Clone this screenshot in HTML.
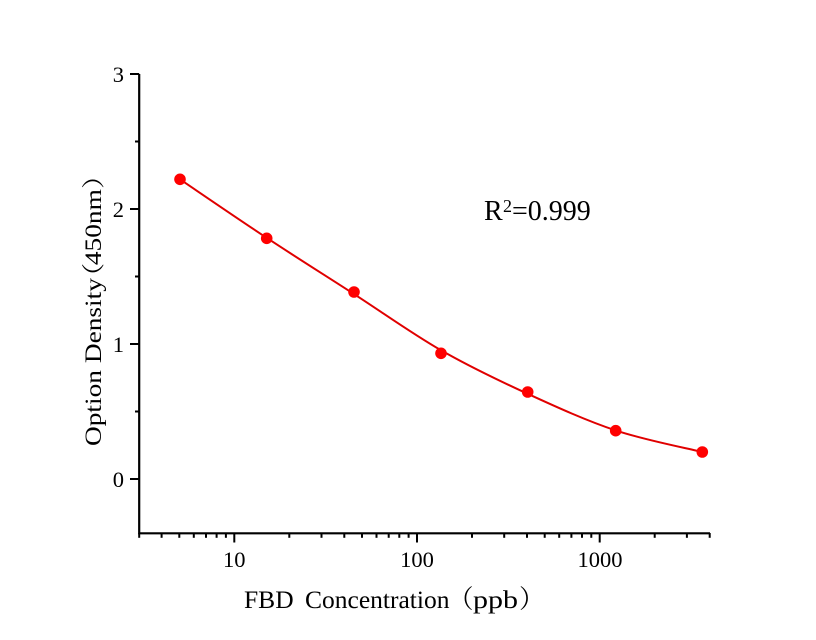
<!DOCTYPE html>
<html>
<head>
<meta charset="utf-8">
<style>
  html, body { margin: 0; padding: 0; background: #fff; }
  svg { display: block; }
  text { font-family: "Liberation Serif", "Noto Serif CJK SC", serif; fill: #000; }
  .cjk { font-family: "Noto Serif CJK SC", "Noto Sans CJK SC", serif; }
</style>
</head>
<body>
<svg width="816" height="640" viewBox="0 0 816 640" xmlns="http://www.w3.org/2000/svg">
  <rect x="0" y="0" width="816" height="640" fill="#fff"/>

  <!-- axes -->
  <path d="M139.2,74 V533.3 H710" stroke="#000" stroke-width="2.2" fill="none"/>

  <!-- y ticks -->
  <g stroke="#000" stroke-width="2">
    <line x1="130" y1="74" x2="139.2" y2="74"/>
    <line x1="130" y1="209" x2="139.2" y2="209"/>
    <line x1="130" y1="344" x2="139.2" y2="344"/>
    <line x1="130" y1="479" x2="139.2" y2="479"/>
    <line x1="135" y1="141.5" x2="139.2" y2="141.5"/>
    <line x1="135" y1="276.5" x2="139.2" y2="276.5"/>
    <line x1="135" y1="411.5" x2="139.2" y2="411.5"/>
  </g>

  <!-- x ticks -->
  <g stroke="#000" stroke-width="2">
    <line x1="234.3" y1="533" x2="234.3" y2="542.5"/>
    <line x1="417" y1="533" x2="417" y2="542.5"/>
    <line x1="599.7" y1="533" x2="599.7" y2="542.5"/>
    <line x1="139.2" y1="533" x2="139.2" y2="537.8"/>
    <line x1="161.6" y1="533" x2="161.6" y2="537.8"/>
    <line x1="179.3" y1="533" x2="179.3" y2="537.8"/>
    <line x1="193.8" y1="533" x2="193.8" y2="537.8"/>
    <line x1="206.0" y1="533" x2="206.0" y2="537.8"/>
    <line x1="216.6" y1="533" x2="216.6" y2="537.8"/>
    <line x1="225.9" y1="533" x2="225.9" y2="537.8"/>
    <line x1="289.3" y1="533" x2="289.3" y2="537.8"/>
    <line x1="321.5" y1="533" x2="321.5" y2="537.8"/>
    <line x1="344.3" y1="533" x2="344.3" y2="537.8"/>
    <line x1="362.0" y1="533" x2="362.0" y2="537.8"/>
    <line x1="376.5" y1="533" x2="376.5" y2="537.8"/>
    <line x1="388.7" y1="533" x2="388.7" y2="537.8"/>
    <line x1="399.3" y1="533" x2="399.3" y2="537.8"/>
    <line x1="408.6" y1="533" x2="408.6" y2="537.8"/>
    <line x1="472.0" y1="533" x2="472.0" y2="537.8"/>
    <line x1="504.2" y1="533" x2="504.2" y2="537.8"/>
    <line x1="527.0" y1="533" x2="527.0" y2="537.8"/>
    <line x1="544.7" y1="533" x2="544.7" y2="537.8"/>
    <line x1="559.2" y1="533" x2="559.2" y2="537.8"/>
    <line x1="571.4" y1="533" x2="571.4" y2="537.8"/>
    <line x1="582.0" y1="533" x2="582.0" y2="537.8"/>
    <line x1="591.3" y1="533" x2="591.3" y2="537.8"/>
    <line x1="654.7" y1="533" x2="654.7" y2="537.8"/>
    <line x1="686.9" y1="533" x2="686.9" y2="537.8"/>
    <line x1="709.7" y1="533" x2="709.7" y2="537.8"/>
  </g>

  <!-- y tick labels -->
  <g font-size="22.5" text-anchor="end">
    <text x="124" y="82">3</text>
    <text x="124" y="217">2</text>
    <text x="124" y="352">1</text>
    <text x="124" y="487">0</text>
  </g>

  <!-- x tick labels -->
  <g font-size="22.5" text-anchor="middle">
    <text x="234.3" y="567">10</text>
    <text x="417" y="567">100</text>
    <text x="600" y="567">1000</text>
  </g>

  <!-- x axis title -->
  <text x="244" y="608" font-size="25.5">FBD</text>
  <text x="305" y="608" font-size="25.5">Concentration</text>
  <text class="cjk" x="448" y="608" font-size="25.5">（</text>
  <text x="473" y="608" font-size="25.5" textLength="45" lengthAdjust="spacingAndGlyphs">ppb</text>
  <text class="cjk" x="519" y="608" font-size="25.5">）</text>

  <!-- y axis title -->
  <g transform="translate(101,446) rotate(-90) scale(1.19,1)">
    <text y="0" font-size="23"><tspan x="0">Option Density</tspan><tspan class="cjk" x="131">（</tspan><tspan x="152">450nm</tspan><tspan class="cjk" x="216">）</tspan></text>
  </g>

  <!-- R^2 annotation -->
  <text x="484" y="220" font-size="28">R</text>
  <text x="503" y="212" font-size="18">2</text>
  <text x="512" y="220" font-size="28">=0.999</text>

  <!-- fitted curve -->
  <path d="M180,179.3 C194.45,189.06 237.7,218.73 266.7,237.85 C295.7,256.98 324.95,275.31 354,294.05 C383.05,312.79 412.05,333.64 441,350.27 C469.95,366.9 498.58,380.46 527.7,393.82 C556.82,407.18 586.6,420.74 615.7,430.44 C644.8,440.14 687.87,448.41 702.3,452"
        stroke="#e00000" stroke-width="2" fill="none"/>

  <!-- data points -->
  <g fill="#ff0000">
    <circle cx="180" cy="179.3" r="5.8"/>
    <circle cx="266.7" cy="238.3" r="5.8"/>
    <circle cx="354" cy="292" r="5.8"/>
    <circle cx="441" cy="353.3" r="5.8"/>
    <circle cx="527.7" cy="392" r="5.8"/>
    <circle cx="615.7" cy="430.7" r="5.8"/>
    <circle cx="702.3" cy="452" r="5.8"/>
  </g>
</svg>
</body>
</html>
